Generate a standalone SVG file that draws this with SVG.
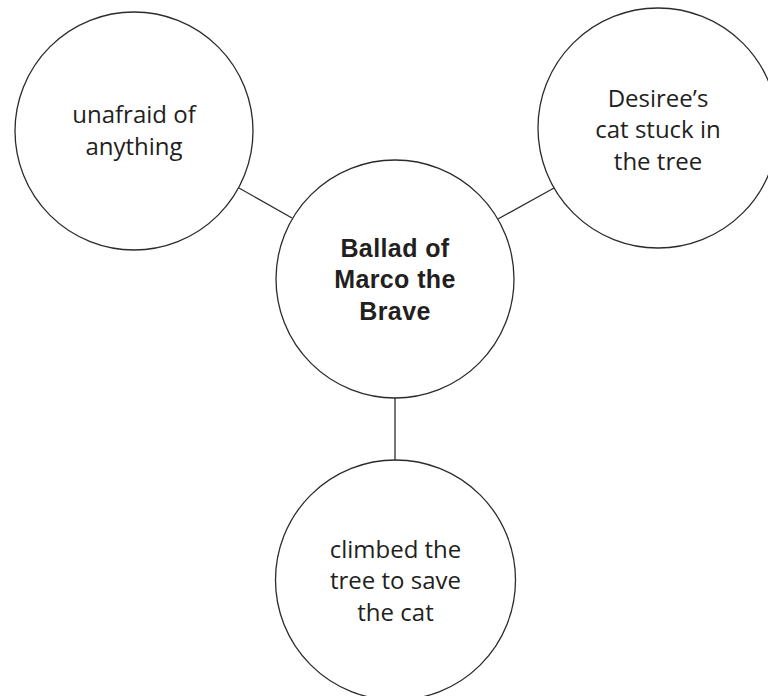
<svg xmlns="http://www.w3.org/2000/svg" width="768" height="696" viewBox="0 0 768 696">
<style>
.node circle{fill:#fff;stroke:#2b2b2b;stroke-width:1.3}
.conn line{stroke:#2b2b2b;stroke-width:1.3}
text{font-family:"Open Sans","Liberation Sans",sans-serif;font-size:24px;fill:#231f20;text-anchor:middle}
.b{font-family:"Liberation Sans",Arial,sans-serif;font-weight:bold;font-size:25px;letter-spacing:0.4px}
</style>
<rect width="768" height="696" fill="#fff"/>
<g id="connectors" class="conn">
<line x1="239" y1="188" x2="292" y2="218"/>
<line x1="498" y1="219" x2="554" y2="188"/>
<line x1="395" y1="398" x2="395" y2="460"/>
</g>
<g id="node-unafraid" class="node">
<circle cx="134" cy="131" r="119"/>
<text x="134" y="123">unafraid of</text>
<text x="134" y="155">anything</text>
</g>
<g id="node-desiree" class="node">
<circle cx="658" cy="128" r="120"/>
<text x="658" y="107">Desiree’s</text>
<text x="658" y="138">cat stuck in</text>
<text x="658" y="170">the tree</text>
</g>
<g id="node-ballad" class="node">
<circle cx="395" cy="279" r="119"/>
<text class="b" x="395" y="257">Ballad of</text>
<text class="b" x="395" y="288">Marco the</text>
<text class="b" x="395" y="320">Brave</text>
</g>
<g id="node-climbed" class="node">
<circle cx="395.5" cy="580" r="120"/>
<text x="395.5" y="558">climbed the</text>
<text x="395.5" y="589">tree to save</text>
<text x="395.5" y="621">the cat</text>
</g>
</svg>
